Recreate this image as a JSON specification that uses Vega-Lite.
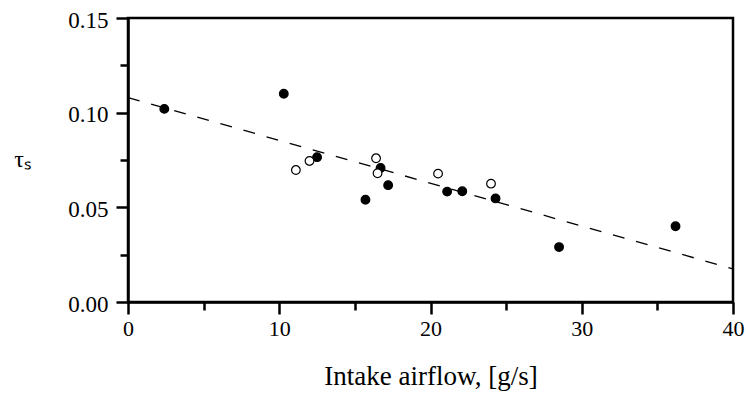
{
  "$schema": "https://vega.github.io/schema/vega-lite/v6.json",
  "width": 605,
  "height": 284,
  "autosize": {"type": "none"},
  "padding": {"left": 128, "top": 18, "right": 13, "bottom": 92},
  "background": "white",
  "config": {
    "font": "Liberation Serif",
    "view": {"stroke": "black", "strokeWidth": 2.5},
    "axis": {
      "domainColor": "black",
      "domainWidth": 2.5,
      "tickColor": "black",
      "tickWidth": 2.5,
      "grid": false,
      "labelFont": "Liberation Serif",
      "labelFontSize": 22,
      "labelColor": "black",
      "labelFlush": false,
      "labelOverlap": false,
      "titleFont": "Liberation Serif",
      "titleFontSize": 22,
      "titleFontWeight": "normal",
      "titleColor": "black"
    }
  },
  "datasets": {
    "pts": [
      {"airflow": 2.4, "tau": 0.102, "type": "filled"},
      {"airflow": 10.3, "tau": 0.110, "type": "filled"},
      {"airflow": 12.5, "tau": 0.0765, "type": "filled"},
      {"airflow": 15.7, "tau": 0.054, "type": "filled"},
      {"airflow": 16.7, "tau": 0.0708, "type": "filled"},
      {"airflow": 17.2, "tau": 0.0617, "type": "filled"},
      {"airflow": 21.1, "tau": 0.0583, "type": "filled"},
      {"airflow": 22.1, "tau": 0.0585, "type": "filled"},
      {"airflow": 24.3, "tau": 0.0547, "type": "filled"},
      {"airflow": 28.5, "tau": 0.029, "type": "filled"},
      {"airflow": 36.2, "tau": 0.040, "type": "filled"},
      {"airflow": 11.1, "tau": 0.0697, "type": "open"},
      {"airflow": 12.0, "tau": 0.0745, "type": "open"},
      {"airflow": 16.4, "tau": 0.0759, "type": "open"},
      {"airflow": 16.5, "tau": 0.068, "type": "open"},
      {"airflow": 20.5, "tau": 0.0678, "type": "open"},
      {"airflow": 24.0, "tau": 0.0625, "type": "open"}
    ],
    "fit": [
      {"airflow": 0, "tau": 0.108},
      {"airflow": 40, "tau": 0.0175}
    ]
  },
  "layer": [
    {
      "data": {"name": "fit"},
      "mark": {"type": "line", "color": "black", "strokeWidth": 1.3, "strokeDash": [12, 12]},
      "encoding": {
        "x": {
          "field": "airflow", "type": "quantitative",
          "scale": {"domain": [0, 40], "nice": false, "zero": false},
          "axis": {
            "values": [0, 5, 10, 15, 20, 25, 30, 35, 40],
            "labelExpr": "datum.value % 10 === 0 ? datum.label : ''",
            "tickSize": {"condition": {"test": "datum.value % 10 === 0", "value": 12}, "value": 8},
            "labelFont": "Liberation Serif",
            "labelPadding": 4,
            "title": "Intake airflow, [g/s]",
            "titleFontSize": 27,
            "titleBaseline": "alphabetic",
            "titleY": 82
          }
        },
        "y": {
          "field": "tau", "type": "quantitative",
          "scale": {"domain": [0, 0.15], "nice": false, "zero": false},
          "axis": {
            "values": [0, 0.025, 0.05, 0.075, 0.1, 0.125, 0.15],
            "format": ".2f",
            "labelExpr": "round(datum.value * 1000) % 50 === 0 ? datum.label : ''",
            "tickSize": {"condition": {"test": "round(datum.value * 1000) % 50 === 0", "value": 12}, "value": 8},
            "labelFont": "Liberation Serif",
            "labelFontSize": 23,
            "labelPadding": 8,
            "labelOffset": 2,
            "title": "τₛ",
            "titleAngle": 0,
            "titleAlign": "center",
            "titleBaseline": "middle",
            "titleX": -106,
            "titleY": 141,
            "titleFontSize": 24
          }
        }
      }
    },
    {
      "data": {"name": "pts"},
      "mark": {"type": "point", "filled": true, "stroke": "black", "strokeWidth": 1.2, "size": 75, "opacity": 1},
      "encoding": {
        "x": {"field": "airflow", "type": "quantitative"},
        "y": {"field": "tau", "type": "quantitative"},
        "fill": {
          "field": "type", "type": "nominal",
          "scale": {"domain": ["filled", "open"], "range": ["black", "white"]},
          "legend": null
        }
      }
    }
  ]
}
